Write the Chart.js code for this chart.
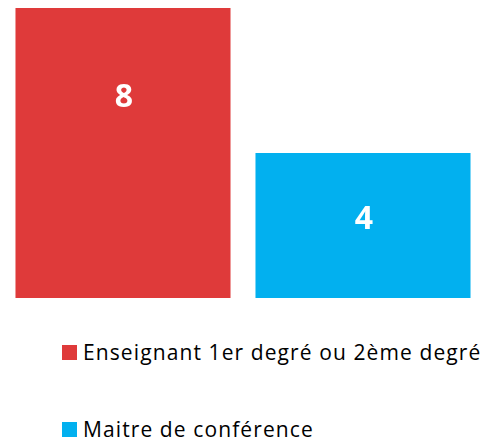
<!DOCTYPE html>
<html lang="fr">
<head>
  <meta charset="UTF-8" />
  <title>Enseignants</title>
  <script src="https://cdn.jsdelivr.net/npm/chart.js"></script>
  <style>
    body {
      margin: 0;
      background: #ffffff;
      font-family: 'Open Sans', sans-serif;
    }

    .chart-box {
      position: absolute;
      left: 0;
      top: 0;
      width: 489px;
      height: 300px;
    }

    #legend {
      position: absolute;
      left: 62px;
      top: 337px;
      margin: 0;
      padding: 0;
      list-style: none;
    }

    #legend li {
      display: flex;
      align-items: center;
      height: 30px;
      margin-bottom: 47px;
      font-size: 21px;
      letter-spacing: 1.1px;
      color: #000;
      white-space: nowrap;
    }

    #legend .swatch {
      width: 15px;
      height: 15px;
      margin-right: 6px;
      flex: none;
    }
  </style>
</head>
<body>

  <div class="chart-box">
    <canvas id="barChart"></canvas>
  </div>
  <ul id="legend"></ul>

  <script>
    const categories = ['Enseignant 1er degré ou 2ème degré', 'Maitre de conférence'];
    const counts = [8, 4];
    const barColors = ['#DF3A3A', '#02B0EF'];

    // value labels sit inside each bar, as a fraction of bar height from the top
    const labelOffsets = [0.31, 0.46];

    const valueLabels = {
      id: 'valueLabels',
      afterDatasetsDraw(chart) {
        const ctx = chart.ctx;
        const meta = chart.getDatasetMeta(0);
        ctx.save();
        ctx.fillStyle = '#ffffff';
        ctx.font = 'bold 32px "Open Sans", sans-serif';
        ctx.textAlign = 'center';
        ctx.textBaseline = 'middle';
        meta.data.forEach((bar, i) => {
          const y = bar.y + (bar.base - bar.y) * labelOffsets[i];
          ctx.fillText(String(counts[i]), bar.x + 1, y);
        });
        ctx.restore();
      }
    };

    const htmlLegend = {
      id: 'htmlLegend',
      afterUpdate(chart) {
        const list = document.getElementById('legend');
        list.innerHTML = '';
        chart.data.labels.forEach((label, i) => {
          const li = document.createElement('li');
          const box = document.createElement('span');
          box.className = 'swatch';
          box.style.background = chart.data.datasets[0].backgroundColor[i];
          const text = document.createElement('span');
          text.textContent = label;
          li.appendChild(box);
          li.appendChild(text);
          list.appendChild(li);
        });
      }
    };

    const ctx = document.getElementById('barChart').getContext('2d');
    new Chart(ctx, {
      type: 'bar',
      data: {
        labels: categories,
        datasets: [{
          data: counts,
          backgroundColor: barColors,
          borderWidth: 0,
          categoryPercentage: 1,
          barPercentage: 0.896
        }]
      },
      options: {
        responsive: true,
        maintainAspectRatio: false,
        animation: false,
        layout: {
          padding: { left: 3, right: 6, top: 8, bottom: 2 }
        },
        plugins: {
          legend: { display: false },
          tooltip: { enabled: false }
        },
        scales: {
          x: { display: false },
          y: { display: false, min: 0, max: 8 }
        }
      },
      plugins: [valueLabels, htmlLegend]
    });
  </script>
</body>
</html>
